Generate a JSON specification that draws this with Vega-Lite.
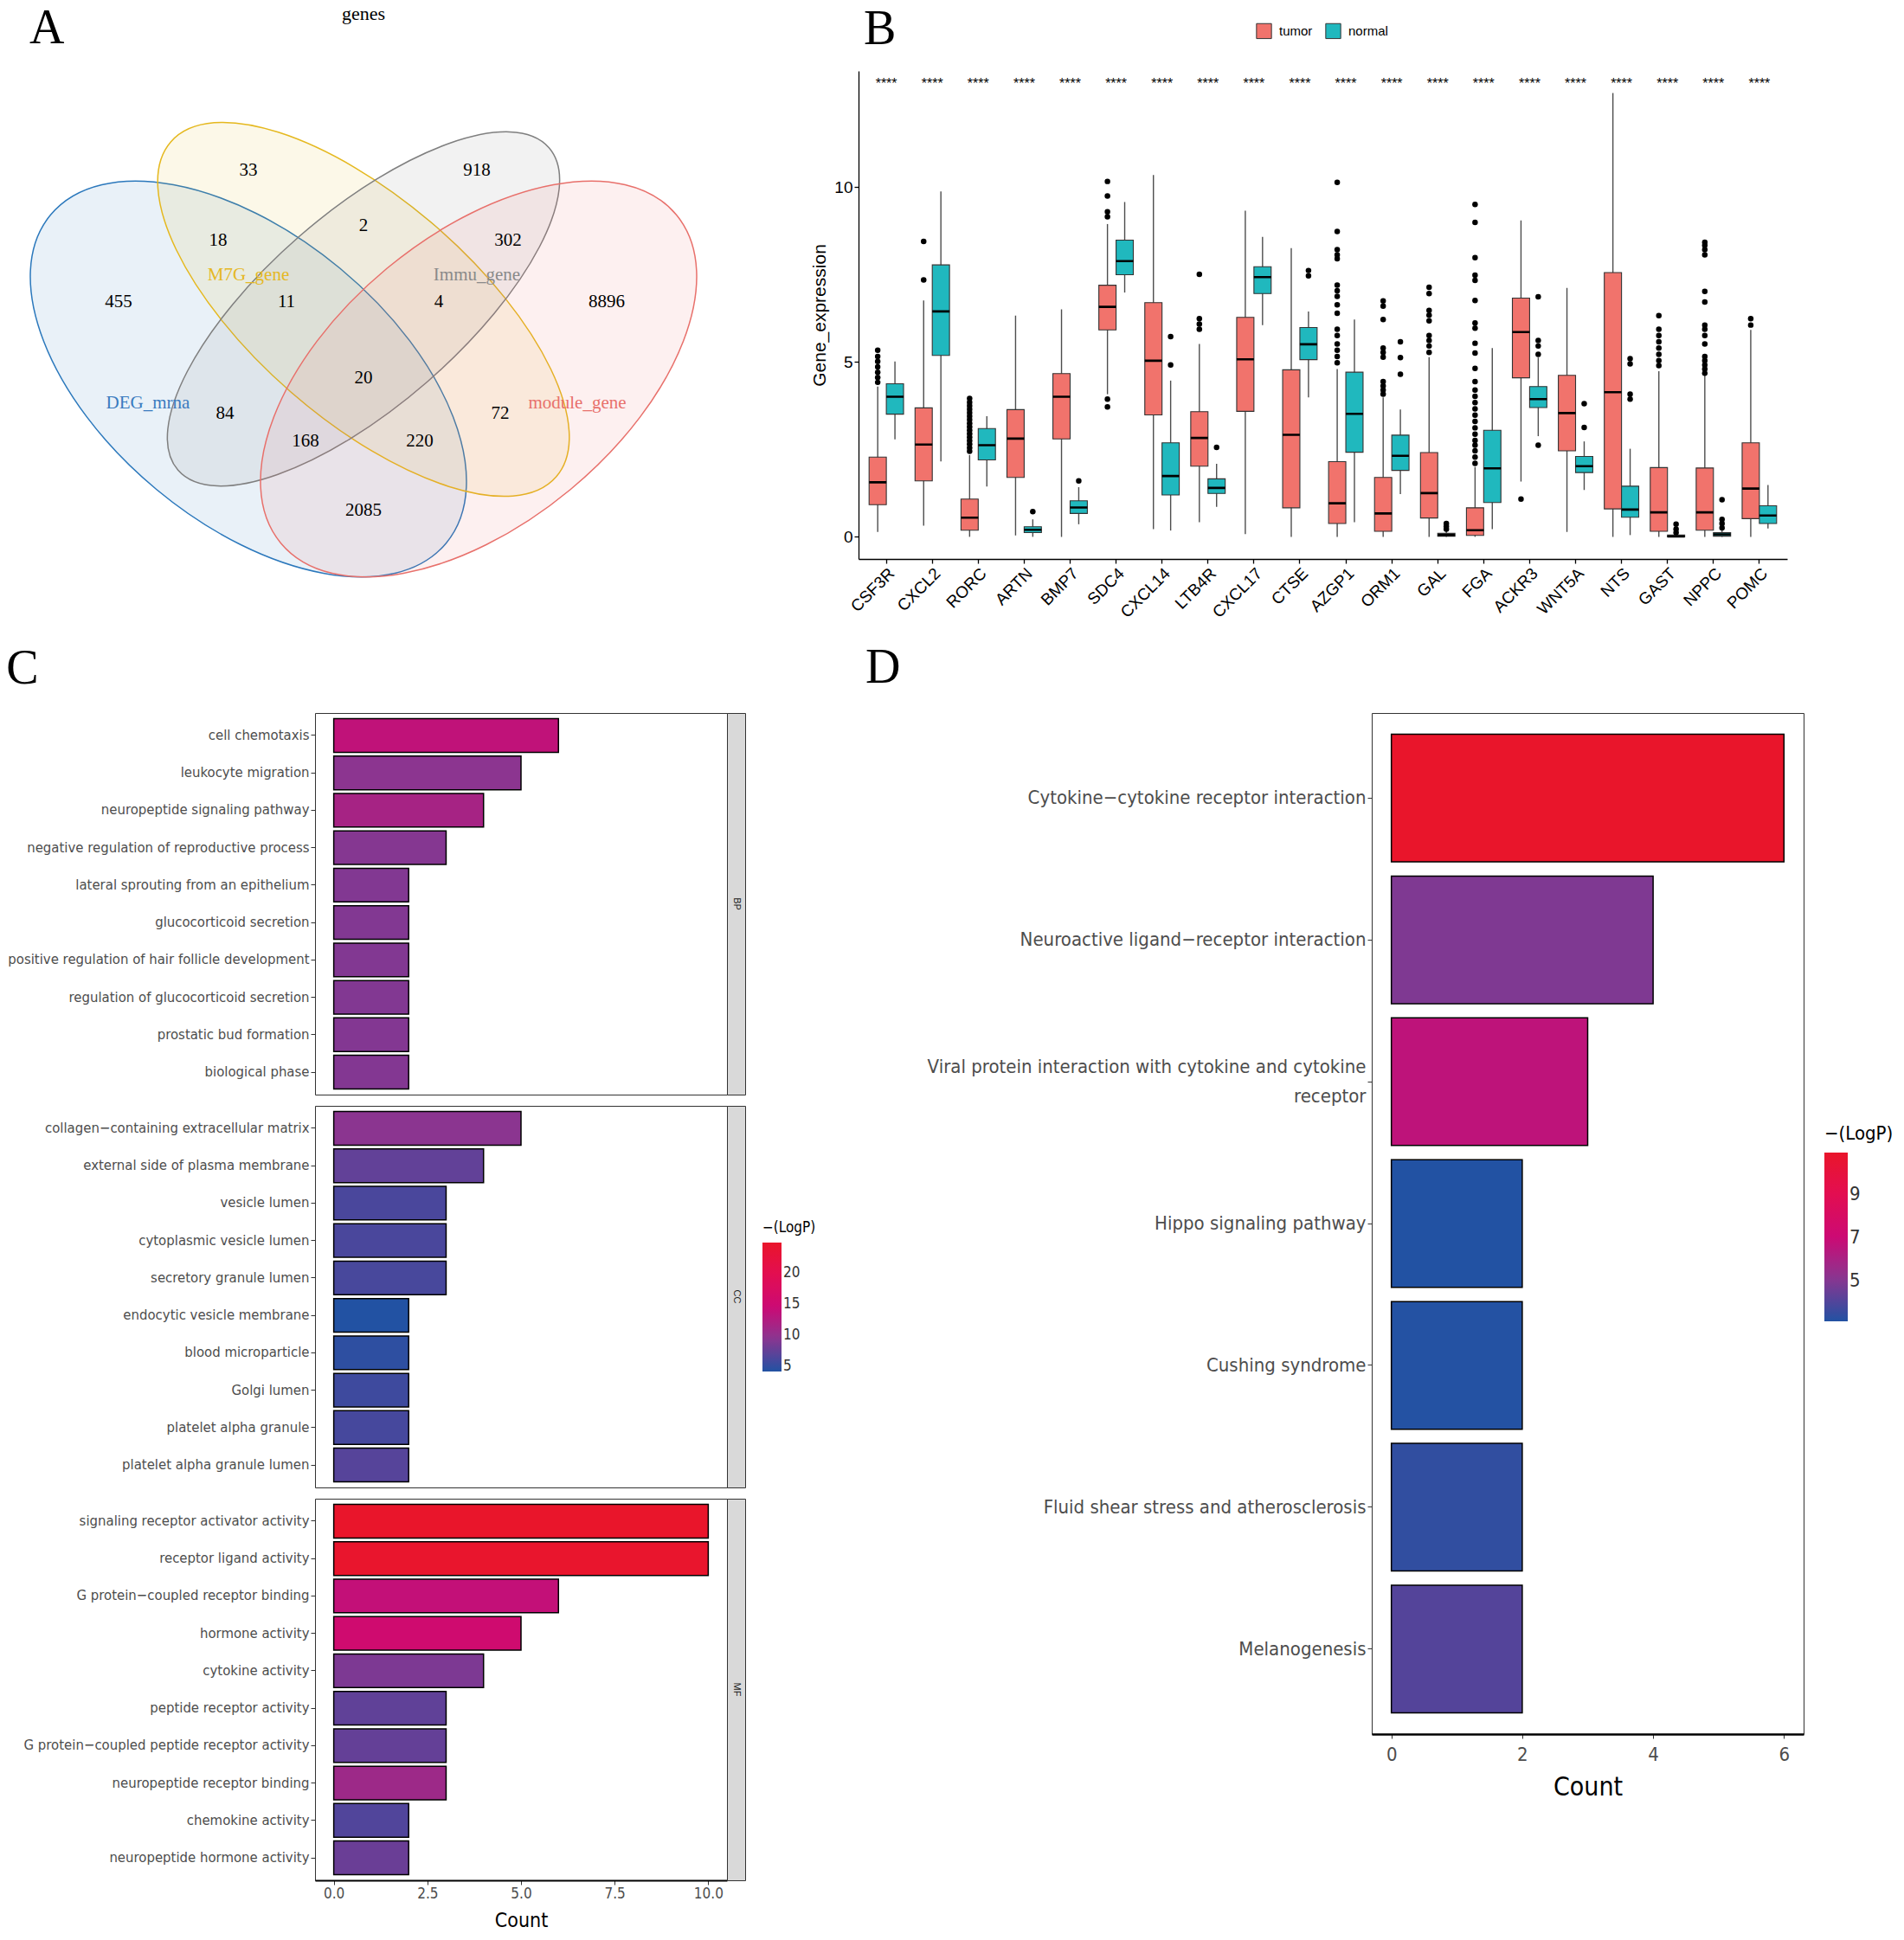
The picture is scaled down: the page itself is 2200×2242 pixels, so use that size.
{
"$schema": "https://vega.github.io/schema/vega-lite/v6.json",
"background": "white",
"padding": {"left": 7, "top": 5, "right": 0, "bottom": 0},
"config": {
 "view": {"stroke": null},
 "font": "Liberation Sans",
 "title": {"font": "Liberation Serif", "fontSize": 56, "fontWeight": "normal", "color": "#000000", "anchor": "start", "baseline": "alphabetic"},
 "axis": {"grid": false, "labelLimit": 1000}
},
"datasets": {
 "venn_title": [{"main": "genes", "cx": 0, "cy": 4.22}],
 "venn_sets": [
  {"set":"DEG_mrna","cx":-1.33,"cy":0,"lx":-2.49,"ly":-0.28},
  {"set":"M7G_gene","cx":0,"cy":0.805,"lx":-1.33,"ly":1.2},
  {"set":"Immu_gene","cx":0,"cy":0.81,"lx":1.31,"ly":1.2},
  {"set":"module_gene","cx":1.33,"cy":0,"lx":2.47,"ly":-0.28}
 ],
 "venn_regions": [
  {"region":"DEG_mrna","count":455,"cx":-2.83,"cy":0.89},
  {"region":"M7G_gene","count":33,"cx":-1.33,"cy":2.41},
  {"region":"Immu_gene","count":918,"cx":1.31,"cy":2.41},
  {"region":"module_gene","count":8896,"cx":2.81,"cy":0.89},
  {"region":"DEG_mrna&M7G_gene","count":18,"cx":-1.68,"cy":1.6},
  {"region":"M7G_gene&Immu_gene","count":2,"cx":0,"cy":1.77},
  {"region":"Immu_gene&module_gene","count":302,"cx":1.67,"cy":1.6},
  {"region":"DEG_mrna&M7G_gene&Immu_gene","count":11,"cx":-0.89,"cy":0.89},
  {"region":"M7G_gene&Immu_gene&module_gene","count":4,"cx":0.87,"cy":0.89},
  {"region":"all","count":20,"cx":0,"cy":0.01},
  {"region":"DEG_mrna&Immu_gene","count":84,"cx":-1.6,"cy":-0.4},
  {"region":"M7G_gene&module_gene","count":72,"cx":1.58,"cy":-0.4},
  {"region":"DEG_mrna&Immu_gene&module_gene","count":168,"cx":-0.67,"cy":-0.72},
  {"region":"DEG_mrna&M7G_gene&module_gene","count":220,"cx":0.65,"cy":-0.72},
  {"region":"DEG_mrna&module_gene","count":2085,"cx":0,"cy":-1.52}
 ],
 "box": [
  {"gene":"CSF3R","group":"tumor","lw":0.14,"q1":0.92,"med":1.56,"q3":2.28,"uw":4.30},
  {"gene":"CSF3R","group":"normal","lw":2.79,"q1":3.51,"med":4.01,"q3":4.38,"uw":5.02},
  {"gene":"CXCL2","group":"tumor","lw":0.32,"q1":1.60,"med":2.64,"q3":3.69,"uw":6.76},
  {"gene":"CXCL2","group":"normal","lw":2.16,"q1":5.19,"med":6.45,"q3":7.78,"uw":9.88},
  {"gene":"RORC","group":"tumor","lw":0.0,"q1":0.19,"med":0.55,"q3":1.08,"uw":2.34},
  {"gene":"RORC","group":"normal","lw":1.44,"q1":2.20,"med":2.62,"q3":3.10,"uw":3.45},
  {"gene":"ARTN","group":"tumor","lw":0.04,"q1":1.70,"med":2.81,"q3":3.64,"uw":6.33},
  {"gene":"ARTN","group":"normal","lw":0.0,"q1":0.12,"med":0.20,"q3":0.29,"uw":0.50},
  {"gene":"BMP7","group":"tumor","lw":0.0,"q1":2.80,"med":4.01,"q3":4.67,"uw":6.51},
  {"gene":"BMP7","group":"normal","lw":0.36,"q1":0.67,"med":0.84,"q3":1.03,"uw":1.42},
  {"gene":"SDC4","group":"tumor","lw":4.08,"q1":5.92,"med":6.58,"q3":7.20,"uw":8.95},
  {"gene":"SDC4","group":"normal","lw":6.99,"q1":7.50,"med":7.89,"q3":8.49,"uw":9.58},
  {"gene":"CXCL14","group":"tumor","lw":0.22,"q1":3.49,"med":5.04,"q3":6.70,"uw":10.35},
  {"gene":"CXCL14","group":"normal","lw":0.18,"q1":1.20,"med":1.74,"q3":2.69,"uw":4.47},
  {"gene":"LTB4R","group":"tumor","lw":0.42,"q1":2.02,"med":2.83,"q3":3.58,"uw":5.52},
  {"gene":"LTB4R","group":"normal","lw":0.86,"q1":1.24,"med":1.40,"q3":1.66,"uw":2.09},
  {"gene":"CXCL17","group":"tumor","lw":0.08,"q1":3.59,"med":5.08,"q3":6.28,"uw":9.33},
  {"gene":"CXCL17","group":"normal","lw":6.06,"q1":6.96,"med":7.43,"q3":7.73,"uw":8.58},
  {"gene":"CTSE","group":"tumor","lw":0.0,"q1":0.83,"med":2.92,"q3":4.78,"uw":8.26},
  {"gene":"CTSE","group":"normal","lw":3.99,"q1":5.07,"med":5.51,"q3":5.99,"uw":6.45},
  {"gene":"AZGP1","group":"tumor","lw":0.0,"q1":0.38,"med":0.96,"q3":2.15,"uw":4.80},
  {"gene":"AZGP1","group":"normal","lw":0.42,"q1":2.42,"med":3.52,"q3":4.71,"uw":6.22},
  {"gene":"ORM1","group":"tumor","lw":0.0,"q1":0.16,"med":0.67,"q3":1.70,"uw":3.99},
  {"gene":"ORM1","group":"normal","lw":1.22,"q1":1.90,"med":2.32,"q3":2.91,"uw":3.64},
  {"gene":"GAL","group":"tumor","lw":0.0,"q1":0.54,"med":1.25,"q3":2.41,"uw":5.14},
  {"gene":"GAL","group":"normal","lw":0.0,"q1":0.02,"med":0.05,"q3":0.10,"uw":0.18},
  {"gene":"FGA","group":"tumor","lw":0.0,"q1":0.04,"med":0.19,"q3":0.83,"uw":2.00},
  {"gene":"FGA","group":"normal","lw":0.22,"q1":0.98,"med":1.96,"q3":3.05,"uw":5.40},
  {"gene":"ACKR3","group":"tumor","lw":1.58,"q1":4.55,"med":5.86,"q3":6.83,"uw":9.05},
  {"gene":"ACKR3","group":"normal","lw":2.88,"q1":3.70,"med":3.94,"q3":4.30,"uw":5.13},
  {"gene":"WNT5A","group":"tumor","lw":0.14,"q1":2.46,"med":3.54,"q3":4.62,"uw":7.12},
  {"gene":"WNT5A","group":"normal","lw":1.34,"q1":1.84,"med":2.02,"q3":2.30,"uw":2.73},
  {"gene":"NTS","group":"tumor","lw":0.0,"q1":0.80,"med":4.14,"q3":7.56,"uw":12.70},
  {"gene":"NTS","group":"normal","lw":0.05,"q1":0.56,"med":0.78,"q3":1.45,"uw":2.52},
  {"gene":"GAST","group":"tumor","lw":0.0,"q1":0.16,"med":0.70,"q3":1.98,"uw":4.74},
  {"gene":"GAST","group":"normal","lw":0.0,"q1":0.0,"med":0.01,"q3":0.05,"uw":0.08},
  {"gene":"NPPC","group":"tumor","lw":0.0,"q1":0.19,"med":0.70,"q3":1.97,"uw":4.62},
  {"gene":"NPPC","group":"normal","lw":0.0,"q1":0.02,"med":0.07,"q3":0.12,"uw":0.20},
  {"gene":"POMC","group":"tumor","lw":0.0,"q1":0.52,"med":1.38,"q3":2.69,"uw":5.92},
  {"gene":"POMC","group":"normal","lw":0.24,"q1":0.38,"med":0.61,"q3":0.89,"uw":1.48}
 ],
 "outliers": [
  {"gene":"CSF3R","group":"tumor","value":5.34},{"gene":"CSF3R","group":"tumor","value":5.16},{"gene":"CSF3R","group":"tumor","value":5.02},{"gene":"CSF3R","group":"tumor","value":4.86},{"gene":"CSF3R","group":"tumor","value":4.71},{"gene":"CSF3R","group":"tumor","value":4.56},{"gene":"CSF3R","group":"tumor","value":4.42},
  {"gene":"CXCL2","group":"tumor","value":8.45},{"gene":"CXCL2","group":"tumor","value":7.35},
  {"gene":"RORC","group":"tumor","value":3.96},{"gene":"RORC","group":"tumor","value":3.85},{"gene":"RORC","group":"tumor","value":3.75},{"gene":"RORC","group":"tumor","value":3.65},{"gene":"RORC","group":"tumor","value":3.55},{"gene":"RORC","group":"tumor","value":3.45},{"gene":"RORC","group":"tumor","value":3.35},{"gene":"RORC","group":"tumor","value":3.25},{"gene":"RORC","group":"tumor","value":3.15},{"gene":"RORC","group":"tumor","value":3.05},{"gene":"RORC","group":"tumor","value":2.95},{"gene":"RORC","group":"tumor","value":2.85},{"gene":"RORC","group":"tumor","value":2.75},{"gene":"RORC","group":"tumor","value":2.65},{"gene":"RORC","group":"tumor","value":2.55},{"gene":"RORC","group":"tumor","value":2.45},
  {"gene":"ARTN","group":"normal","value":0.72},
  {"gene":"BMP7","group":"normal","value":1.60},
  {"gene":"SDC4","group":"tumor","value":10.17},{"gene":"SDC4","group":"tumor","value":9.75},{"gene":"SDC4","group":"tumor","value":9.30},{"gene":"SDC4","group":"tumor","value":9.16},{"gene":"SDC4","group":"tumor","value":3.94},{"gene":"SDC4","group":"tumor","value":3.72},
  {"gene":"CXCL14","group":"normal","value":5.73},{"gene":"CXCL14","group":"normal","value":4.92},
  {"gene":"LTB4R","group":"tumor","value":7.51},{"gene":"LTB4R","group":"tumor","value":6.24},{"gene":"LTB4R","group":"tumor","value":6.09},{"gene":"LTB4R","group":"tumor","value":5.94},
  {"gene":"LTB4R","group":"normal","value":2.56},
  {"gene":"CTSE","group":"normal","value":7.62},{"gene":"CTSE","group":"normal","value":7.47},
  {"gene":"AZGP1","group":"tumor","value":10.14},{"gene":"AZGP1","group":"tumor","value":8.74},{"gene":"AZGP1","group":"tumor","value":8.22},{"gene":"AZGP1","group":"tumor","value":8.07},{"gene":"AZGP1","group":"tumor","value":7.96},{"gene":"AZGP1","group":"tumor","value":7.20},{"gene":"AZGP1","group":"tumor","value":7.04},{"gene":"AZGP1","group":"tumor","value":6.88},{"gene":"AZGP1","group":"tumor","value":6.64},{"gene":"AZGP1","group":"tumor","value":6.40},{"gene":"AZGP1","group":"tumor","value":5.94},{"gene":"AZGP1","group":"tumor","value":5.76},{"gene":"AZGP1","group":"tumor","value":5.52},{"gene":"AZGP1","group":"tumor","value":5.34},{"gene":"AZGP1","group":"tumor","value":5.16},{"gene":"AZGP1","group":"tumor","value":4.98},
  {"gene":"ORM1","group":"tumor","value":6.75},{"gene":"ORM1","group":"tumor","value":6.60},{"gene":"ORM1","group":"tumor","value":6.22},{"gene":"ORM1","group":"tumor","value":5.40},{"gene":"ORM1","group":"tumor","value":5.28},{"gene":"ORM1","group":"tumor","value":5.14},{"gene":"ORM1","group":"tumor","value":4.44},{"gene":"ORM1","group":"tumor","value":4.32},{"gene":"ORM1","group":"tumor","value":4.20},{"gene":"ORM1","group":"tumor","value":4.08},
  {"gene":"ORM1","group":"normal","value":5.58},{"gene":"ORM1","group":"normal","value":5.13},{"gene":"ORM1","group":"normal","value":4.65},
  {"gene":"GAL","group":"tumor","value":7.14},{"gene":"GAL","group":"tumor","value":6.96},{"gene":"GAL","group":"tumor","value":6.48},{"gene":"GAL","group":"tumor","value":6.34},{"gene":"GAL","group":"tumor","value":6.18},{"gene":"GAL","group":"tumor","value":5.76},{"gene":"GAL","group":"tumor","value":5.62},{"gene":"GAL","group":"tumor","value":5.46},{"gene":"GAL","group":"tumor","value":5.28},
  {"gene":"GAL","group":"normal","value":0.38},{"gene":"GAL","group":"normal","value":0.30},{"gene":"GAL","group":"normal","value":0.22},
  {"gene":"FGA","group":"tumor","value":9.51},{"gene":"FGA","group":"tumor","value":9.00},{"gene":"FGA","group":"tumor","value":7.99},{"gene":"FGA","group":"tumor","value":7.49},{"gene":"FGA","group":"tumor","value":7.34},{"gene":"FGA","group":"tumor","value":6.76},{"gene":"FGA","group":"tumor","value":6.12},{"gene":"FGA","group":"tumor","value":5.97},{"gene":"FGA","group":"tumor","value":5.54},{"gene":"FGA","group":"tumor","value":5.26},{"gene":"FGA","group":"tumor","value":4.82},{"gene":"FGA","group":"tumor","value":4.44},{"gene":"FGA","group":"tumor","value":4.20},{"gene":"FGA","group":"tumor","value":4.02},{"gene":"FGA","group":"tumor","value":3.84},{"gene":"FGA","group":"tumor","value":3.66},{"gene":"FGA","group":"tumor","value":3.48},{"gene":"FGA","group":"tumor","value":3.30},{"gene":"FGA","group":"tumor","value":3.12},{"gene":"FGA","group":"tumor","value":2.94},{"gene":"FGA","group":"tumor","value":2.76},{"gene":"FGA","group":"tumor","value":2.62},{"gene":"FGA","group":"tumor","value":2.46},{"gene":"FGA","group":"tumor","value":2.28},{"gene":"FGA","group":"tumor","value":2.10},
  {"gene":"ACKR3","group":"tumor","value":1.08},
  {"gene":"ACKR3","group":"normal","value":6.87},{"gene":"ACKR3","group":"normal","value":5.62},{"gene":"ACKR3","group":"normal","value":5.46},{"gene":"ACKR3","group":"normal","value":5.22},{"gene":"ACKR3","group":"normal","value":2.62},
  {"gene":"WNT5A","group":"normal","value":3.81},{"gene":"WNT5A","group":"normal","value":3.13},
  {"gene":"NTS","group":"normal","value":5.10},{"gene":"NTS","group":"normal","value":4.95},{"gene":"NTS","group":"normal","value":4.08},{"gene":"NTS","group":"normal","value":3.94},
  {"gene":"GAST","group":"tumor","value":6.33},{"gene":"GAST","group":"tumor","value":5.94},{"gene":"GAST","group":"tumor","value":5.76},{"gene":"GAST","group":"tumor","value":5.58},{"gene":"GAST","group":"tumor","value":5.40},{"gene":"GAST","group":"tumor","value":5.22},{"gene":"GAST","group":"tumor","value":5.04},{"gene":"GAST","group":"tumor","value":4.90},
  {"gene":"GAST","group":"normal","value":0.36},{"gene":"GAST","group":"normal","value":0.22},{"gene":"GAST","group":"normal","value":0.12},
  {"gene":"NPPC","group":"tumor","value":8.43},{"gene":"NPPC","group":"tumor","value":8.34},{"gene":"NPPC","group":"tumor","value":8.22},{"gene":"NPPC","group":"tumor","value":8.07},{"gene":"NPPC","group":"tumor","value":7.02},{"gene":"NPPC","group":"tumor","value":6.72},{"gene":"NPPC","group":"tumor","value":6.06},{"gene":"NPPC","group":"tumor","value":5.94},{"gene":"NPPC","group":"tumor","value":5.76},{"gene":"NPPC","group":"tumor","value":5.52},{"gene":"NPPC","group":"tumor","value":5.16},{"gene":"NPPC","group":"tumor","value":5.04},{"gene":"NPPC","group":"tumor","value":4.92},{"gene":"NPPC","group":"tumor","value":4.80},{"gene":"NPPC","group":"tumor","value":4.68},
  {"gene":"NPPC","group":"normal","value":1.06},{"gene":"NPPC","group":"normal","value":0.50},{"gene":"NPPC","group":"normal","value":0.38},{"gene":"NPPC","group":"normal","value":0.26},
  {"gene":"POMC","group":"tumor","value":6.24},{"gene":"POMC","group":"tumor","value":6.06}
 ],
 "signif": [
  {"gene":"CSF3R","p":"****"},{"gene":"CXCL2","p":"****"},{"gene":"RORC","p":"****"},{"gene":"ARTN","p":"****"},{"gene":"BMP7","p":"****"},{"gene":"SDC4","p":"****"},{"gene":"CXCL14","p":"****"},{"gene":"LTB4R","p":"****"},{"gene":"CXCL17","p":"****"},{"gene":"CTSE","p":"****"},{"gene":"AZGP1","p":"****"},{"gene":"ORM1","p":"****"},{"gene":"GAL","p":"****"},{"gene":"FGA","p":"****"},{"gene":"ACKR3","p":"****"},{"gene":"WNT5A","p":"****"},{"gene":"NTS","p":"****"},{"gene":"GAST","p":"****"},{"gene":"NPPC","p":"****"},{"gene":"POMC","p":"****"}
 ],
 "go": [
  {"ont":"BP","term":"cell chemotaxis","count":6,"logp":13.6},
  {"ont":"BP","term":"leukocyte migration","count":5,"logp":9.55},
  {"ont":"BP","term":"neuropeptide signaling pathway","count":4,"logp":11.6},
  {"ont":"BP","term":"negative regulation of reproductive process","count":3,"logp":9.2},
  {"ont":"BP","term":"lateral sprouting from an epithelium","count":2,"logp":9.05},
  {"ont":"BP","term":"glucocorticoid secretion","count":2,"logp":9.05},
  {"ont":"BP","term":"positive regulation of hair follicle development","count":2,"logp":9.05},
  {"ont":"BP","term":"regulation of glucocorticoid secretion","count":2,"logp":9.05},
  {"ont":"BP","term":"prostatic bud formation","count":2,"logp":9.1},
  {"ont":"BP","term":"biological phase","count":2,"logp":9.1},
  {"ont":"CC","term":"collagen−containing extracellular matrix","count":5,"logp":9.5},
  {"ont":"CC","term":"external side of plasma membrane","count":4,"logp":7.4},
  {"ont":"CC","term":"vesicle lumen","count":3,"logp":6.2},
  {"ont":"CC","term":"cytoplasmic vesicle lumen","count":3,"logp":6.2},
  {"ont":"CC","term":"secretory granule lumen","count":3,"logp":6.1},
  {"ont":"CC","term":"endocytic vesicle membrane","count":2,"logp":4.17},
  {"ont":"CC","term":"blood microparticle","count":2,"logp":4.8},
  {"ont":"CC","term":"Golgi lumen","count":2,"logp":5.6},
  {"ont":"CC","term":"platelet alpha granule","count":2,"logp":6.0},
  {"ont":"CC","term":"platelet alpha granule lumen","count":2,"logp":6.8},
  {"ont":"MF","term":"signaling receptor activator activity","count":10,"logp":24.86},
  {"ont":"MF","term":"receptor ligand activity","count":10,"logp":24.6},
  {"ont":"MF","term":"G protein−coupled receptor binding","count":6,"logp":13.8},
  {"ont":"MF","term":"hormone activity","count":5,"logp":15.2},
  {"ont":"MF","term":"cytokine activity","count":4,"logp":8.8},
  {"ont":"MF","term":"peptide receptor activity","count":3,"logp":7.3},
  {"ont":"MF","term":"G protein−coupled peptide receptor activity","count":3,"logp":7.5},
  {"ont":"MF","term":"neuropeptide receptor binding","count":3,"logp":10.9},
  {"ont":"MF","term":"chemokine activity","count":2,"logp":6.55},
  {"ont":"MF","term":"neuropeptide hormone activity","count":2,"logp":7.8}
 ],
 "kegg": [
  {"term":"Cytokine−cytokine receptor interaction","count":6,"logp":10.9},
  {"term":"Neuroactive ligand−receptor interaction","count":4,"logp":4.88},
  {"term":"Viral protein interaction with cytokine and cytokine receptor","count":3,"logp":6.59},
  {"term":"Hippo signaling pathway","count":2,"logp":3.1},
  {"term":"Cushing syndrome","count":2,"logp":3.13},
  {"term":"Fluid shear stress and atherosclerosis","count":2,"logp":3.39},
  {"term":"Melanogenesis","count":2,"logp":4.06}
 ]
},
"resolve": {"scale": {"color": "independent", "fill": "independent", "stroke": "independent"}},
"spacing": 25,
"vconcat": [
 {
  "spacing": 104,
  "resolve": {"scale": {"color": "independent", "fill": "independent", "stroke": "independent"}},
  "hconcat": [
   {
    "width": 468, "height": 618,
    "title": {"text": "A", "frame": "group", "dx": -330, "offset": -57},
    "encoding": {
     "x": {"field": "cx", "type": "quantitative", "scale": {"domain": [-0.56, 4.12], "nice": false, "zero": false}, "axis": null},
     "y": {"field": "cy", "type": "quantitative", "scale": {"domain": [-2.62, 3.56], "nice": false, "zero": false}, "axis": null}
    },
    "layer": [
     {"data": {"name": "venn_sets"}, "transform": [{"filter": "datum.set == 'DEG_mrna'"}],
      "mark": {"type": "point", "shape": "M 1 0 C 1 0.309 0.552 0.559 0 0.559 C -0.552 0.559 -1 0.309 -1 0 C -1 -0.309 -0.552 -0.559 0 -0.559 C 0.552 -0.559 1 -0.309 1 0 Z", "size": 352836, "angle": 39.7, "filled": true, "opacity": 1, "fill": "#2B78BC", "fillOpacity": 0.1, "stroke": "#2B78BC", "strokeWidth": 1.5, "strokeOpacity": 1}},
     {"data": {"name": "venn_sets"}, "transform": [{"filter": "datum.set == 'M7G_gene'"}],
      "mark": {"type": "point", "shape": "M 1 0 C 1 0.238 0.552 0.431 0 0.431 C -0.552 0.431 -1 0.238 -1 0 C -1 -0.238 -0.552 -0.431 0 -0.431 C 0.552 -0.431 1 -0.238 1 0 Z", "size": 348100, "angle": 41, "filled": true, "opacity": 1, "fill": "#E5B81E", "fillOpacity": 0.1, "stroke": "#E5B81E", "strokeWidth": 1.5, "strokeOpacity": 1}},
     {"data": {"name": "venn_sets"}, "transform": [{"filter": "datum.set == 'Immu_gene'"}],
      "mark": {"type": "point", "shape": "M 1 0 C 1 0.218 0.552 0.394 0 0.394 C -0.552 0.394 -1 0.218 -1 0 C -1 -0.218 -0.552 -0.394 0 -0.394 C 0.552 -0.394 1 -0.218 1 0 Z", "size": 322624, "angle": -41, "filled": true, "opacity": 1, "fill": "#7F7F7F", "fillOpacity": 0.1, "stroke": "#7F7F7F", "strokeWidth": 1.5, "strokeOpacity": 1}},
     {"data": {"name": "venn_sets"}, "transform": [{"filter": "datum.set == 'module_gene'"}],
      "mark": {"type": "point", "shape": "M 1 0 C 1 0.309 0.552 0.559 0 0.559 C -0.552 0.559 -1 0.309 -1 0 C -1 -0.309 -0.552 -0.559 0 -0.559 C 0.552 -0.559 1 -0.309 1 0 Z", "size": 352836, "angle": -39.7, "filled": true, "opacity": 1, "fill": "#E8706B", "fillOpacity": 0.1, "stroke": "#E8706B", "strokeWidth": 1.5, "strokeOpacity": 1}},
     {"data": {"name": "venn_regions"},
      "mark": {"type": "text", "font": "Liberation Serif", "fontSize": 21, "color": "#000000"},
      "encoding": {"text": {"field": "count", "type": "quantitative"}}},
     {"data": {"name": "venn_sets"},
      "mark": {"type": "text", "font": "Liberation Serif", "fontSize": 21},
      "encoding": {
       "x": {"field": "lx", "type": "quantitative"},
       "y": {"field": "ly", "type": "quantitative"},
       "text": {"field": "set"},
       "color": {"field": "set", "type": "nominal", "scale": {"domain": ["DEG_mrna", "M7G_gene", "Immu_gene", "module_gene"], "range": ["#3A7BBF", "#E5B824", "#8A8A8A", "#E8716C"]}, "legend": null}
      }},
     {"data": {"name": "venn_title"},
      "mark": {"type": "text", "font": "Liberation Serif", "fontSize": 22, "color": "#000000"},
      "encoding": {"text": {"field": "main"}}}
    ]
   },
   {
    "width": 1073, "height": 564,
    "title": {"text": "B", "frame": "group", "dx": 6, "offset": -37},
    "encoding": {
     "x": {"field": "gene", "type": "nominal", "sort": ["CSF3R","CXCL2","RORC","ARTN","BMP7","SDC4","CXCL14","LTB4R","CXCL17","CTSE","AZGP1","ORM1","GAL","FGA","ACKR3","WNT5A","NTS","GAST","NPPC","POMC"],
      "scale": {"paddingInner": 0.25, "paddingOuter": 0.23},
      "axis": {"title": null, "labelAngle": -45, "labelAlign": "right", "labelBaseline": "top", "labelFontSize": 19, "labelColor": "#000000", "tickColor": "#000000", "tickSize": 5, "tickWidth": 1.3, "domainColor": "#000000", "domainWidth": 1.3, "labelPadding": 2}}
    },
    "layer": [
     {"data": {"name": "box"},
      "mark": {"type": "rule", "color": "#4D4D4D", "strokeWidth": 1.4},
      "encoding": {
       "xOffset": {"field": "group", "type": "nominal", "sort": ["tumor", "normal"], "scale": {"paddingInner": 0, "paddingOuter": 0}},
       "y": {"field": "lw", "type": "quantitative", "title": "Gene_expression", "scale": {"domain": [-0.634, 13.33], "nice": false, "zero": false},
        "axis": {"values": [0, 5, 10], "title": "Gene_expression", "titleFontSize": 21, "titleFontWeight": "normal", "titleColor": "#000000", "titlePadding": 6, "labelFontSize": 19, "labelColor": "#000000", "tickColor": "#000000", "tickSize": 5, "tickWidth": 1.3, "domainColor": "#000000", "domainWidth": 1.3, "labelPadding": 2}},
       "y2": {"field": "uw"}
      }},
     {"data": {"name": "box"},
      "mark": {"type": "bar", "stroke": "#333333", "strokeWidth": 1.1},
      "encoding": {
       "xOffset": {"field": "group", "type": "nominal", "sort": ["tumor", "normal"], "scale": {"paddingInner": 0, "paddingOuter": 0}},
       "y": {"field": "q1", "type": "quantitative", "title": "Gene_expression"},
       "y2": {"field": "q3"},
       "fill": {"field": "group", "type": "nominal", "scale": {"domain": ["tumor", "normal"], "range": ["#F1736C", "#20B8BE"]},
        "legend": {"orient": "none", "legendX": 459, "legendY": -56, "direction": "horizontal", "title": null, "labelFontSize": 15, "labelColor": "#000000", "symbolType": "square", "symbolSize": 300, "symbolStrokeColor": "#333333", "symbolStrokeWidth": 1, "symbolOpacity": 1, "labelOffset": 8, "columnPadding": 12}}
      }},
     {"data": {"name": "box"},
      "mark": {"type": "bar", "fillOpacity": 0, "stroke": "#000000", "strokeWidth": 2.6},
      "encoding": {
       "xOffset": {"field": "group", "type": "nominal", "sort": ["tumor", "normal"], "scale": {"paddingInner": 0, "paddingOuter": 0}},
       "y": {"field": "med", "type": "quantitative", "title": "Gene_expression"},
       "y2": {"field": "med"}
      }},
     {"data": {"name": "outliers"},
      "mark": {"type": "point", "filled": true, "color": "#000000", "size": 42, "opacity": 1},
      "encoding": {
       "xOffset": {"field": "group", "type": "nominal", "sort": ["tumor", "normal"], "scale": {"paddingInner": 0, "paddingOuter": 0}},
       "y": {"field": "value", "type": "quantitative", "title": "Gene_expression"}
      }},
     {"data": {"name": "signif"},
      "mark": {"type": "text", "fontSize": 16, "color": "#000000", "baseline": "middle"},
      "encoding": {
       "y": {"datum": 12.97, "type": "quantitative"},
       "text": {"field": "p"}
      }}
    ]
   }
  ]
 },
 {
  "spacing": 56,
  "resolve": {"scale": {"color": "independent", "fill": "independent", "stroke": "independent"}},
  "hconcat": [
   {
    "title": {"text": "C", "frame": "bounds", "dx": -1, "offset": 22},
    "spacing": 11,
    "resolve": {"scale": {"fill": "independent"}},
    "vconcat": [
     {
      "bounds": "flush", "spacing": 0,
      "hconcat": [
       {
        "width": 476, "height": 441,
        "view": {"stroke": "#333333", "strokeWidth": 1},
        "data": {"name": "go"},
        "transform": [{"filter": "datum.ont == 'BP'"}],
        "mark": {"type": "bar", "stroke": "#000000", "strokeWidth": 1.5},
        "encoding": {
         "y": {"field": "term", "type": "nominal", "sort": null, "scale": {"paddingInner": 0.1, "paddingOuter": 0.15},
          "axis": {"title": null, "domain": false, "tickColor": "#333333", "tickSize": 5, "labelFont": "Liberation Sans Narrow, Arial Narrow, DejaVu Sans Condensed, Liberation Sans", "labelFontSize": 16.6, "labelColor": "#4D4D4D", "labelPadding": 2}},
         "x": {"field": "count", "type": "quantitative", "scale": {"domain": [-0.5, 10.5], "nice": false, "zero": false}, "axis": null},
         "x2": {"datum": 0},
         "fill": {"field": "logp", "type": "quantitative", "scale": {"domain": [4.17, 9.55, 14.52, 19.89, 24.86], "range": ["#2252A3", "#8C3590", "#CC0A74", "#E30E50", "#E9152B"], "interpolate": "rgb"}, "legend": null}
        }
       },
       {
        "width": 21, "height": 441,
        "view": {"fill": "#D9D9D9", "stroke": "#333333", "strokeWidth": 1},
        "data": {"values": [{"ont": "BP"}]},
        "mark": {"type": "text", "angle": 90, "fontSize": 11, "color": "#1A1A1A"},
        "encoding": {"text": {"field": "ont"}}
       }
      ]
     },
     {
      "bounds": "flush", "spacing": 0,
      "hconcat": [
       {
        "width": 476, "height": 441,
        "view": {"stroke": "#333333", "strokeWidth": 1},
        "data": {"name": "go"},
        "transform": [{"filter": "datum.ont == 'CC'"}],
        "mark": {"type": "bar", "stroke": "#000000", "strokeWidth": 1.5},
        "encoding": {
         "y": {"field": "term", "type": "nominal", "sort": null, "scale": {"paddingInner": 0.1, "paddingOuter": 0.15},
          "axis": {"title": null, "domain": false, "tickColor": "#333333", "tickSize": 5, "labelFont": "Liberation Sans Narrow, Arial Narrow, DejaVu Sans Condensed, Liberation Sans", "labelFontSize": 16.6, "labelColor": "#4D4D4D", "labelPadding": 2}},
         "x": {"field": "count", "type": "quantitative", "scale": {"domain": [-0.5, 10.5], "nice": false, "zero": false}, "axis": null},
         "x2": {"datum": 0},
         "fill": {"field": "logp", "type": "quantitative", "scale": {"domain": [4.17, 9.55, 14.52, 19.89, 24.86], "range": ["#2252A3", "#8C3590", "#CC0A74", "#E30E50", "#E9152B"], "interpolate": "rgb"},
          "legend": {"orient": "none", "legendX": 517, "legendY": 133, "direction": "vertical", "title": "−(LogP)", "titleFont": "Liberation Sans Narrow, Arial Narrow, DejaVu Sans Condensed, Liberation Sans", "titleFontSize": 17, "titleFontWeight": "normal", "titleColor": "#000000", "titlePadding": 8, "gradientLength": 149, "gradientThickness": 22, "gradientStrokeWidth": 0, "labelFont": "Liberation Sans Narrow, Arial Narrow, DejaVu Sans Condensed, Liberation Sans", "labelFontSize": 17, "labelColor": "#333333", "values": [5, 10, 15, 20]}}
        }
       },
       {
        "width": 21, "height": 441,
        "view": {"fill": "#D9D9D9", "stroke": "#333333", "strokeWidth": 1},
        "data": {"values": [{"ont": "CC"}]},
        "mark": {"type": "text", "angle": 90, "fontSize": 11, "color": "#1A1A1A"},
        "encoding": {"text": {"field": "ont"}}
       }
      ]
     },
     {
      "bounds": "flush", "spacing": 0,
      "hconcat": [
       {
        "width": 476, "height": 441,
        "view": {"stroke": "#333333", "strokeWidth": 1},
        "data": {"name": "go"},
        "transform": [{"filter": "datum.ont == 'MF'"}],
        "mark": {"type": "bar", "stroke": "#000000", "strokeWidth": 1.5},
        "encoding": {
         "y": {"field": "term", "type": "nominal", "sort": null, "scale": {"paddingInner": 0.1, "paddingOuter": 0.15},
          "axis": {"title": null, "domain": false, "tickColor": "#333333", "tickSize": 5, "labelFont": "Liberation Sans Narrow, Arial Narrow, DejaVu Sans Condensed, Liberation Sans", "labelFontSize": 16.6, "labelColor": "#4D4D4D", "labelPadding": 2}},
         "x": {"field": "count", "type": "quantitative", "scale": {"domain": [-0.5, 10.5], "nice": false, "zero": false},
          "axis": {"title": "Count", "values": [0, 2.5, 5, 7.5, 10], "format": ".1f", "domainColor": "#000000", "domainWidth": 2, "tickColor": "#333333", "tickSize": 5, "labelFont": "Liberation Sans Narrow, Arial Narrow, DejaVu Sans Condensed, Liberation Sans", "labelFontSize": 17, "labelColor": "#4D4D4D", "titleFont": "Liberation Sans Narrow, Arial Narrow, DejaVu Sans Condensed, Liberation Sans", "titleFontSize": 23, "titleFontWeight": "normal", "titleColor": "#000000", "titlePadding": 12}},
         "x2": {"datum": 0},
         "fill": {"field": "logp", "type": "quantitative", "scale": {"domain": [4.17, 9.55, 14.52, 19.89, 24.86], "range": ["#2252A3", "#8C3590", "#CC0A74", "#E30E50", "#E9152B"], "interpolate": "rgb"}, "legend": null}
        }
       },
       {
        "width": 21, "height": 441,
        "view": {"fill": "#D9D9D9", "stroke": "#333333", "strokeWidth": 1},
        "data": {"values": [{"ont": "MF"}]},
        "mark": {"type": "text", "angle": 90, "fontSize": 11, "color": "#1A1A1A"},
        "encoding": {"text": {"field": "ont"}}
       }
      ]
     }
    ]
   },
   {
    "width": 499, "height": 1180,
    "title": {"text": "D", "frame": "bounds", "dx": -71, "offset": 23},
    "view": {"stroke": "#333333", "strokeWidth": 1},
    "data": {"name": "kegg"},
    "mark": {"type": "bar", "stroke": "#000000", "strokeWidth": 1.5},
    "encoding": {
     "y": {"field": "term", "type": "nominal", "sort": null, "scale": {"paddingInner": 0.1, "paddingOuter": 0.15},
      "axis": {"title": null, "domain": false, "tickColor": "#333333", "tickSize": 5, "labelFont": "Liberation Sans Narrow, Arial Narrow, DejaVu Sans Condensed, Liberation Sans", "labelFontSize": 22, "labelColor": "#4D4D4D", "labelPadding": 2, "labelLineHeight": 34,
       "labelOffset": {"condition": {"test": "datum.label == 'Viral protein interaction with cytokine and cytokine receptor'", "value": -17}, "value": 0},
       "labelExpr": "datum.label == 'Viral protein interaction with cytokine and cytokine receptor' ? ['Viral protein interaction with cytokine and cytokine', 'receptor'] : datum.label"}},
     "x": {"field": "count", "type": "quantitative", "scale": {"domain": [-0.3, 6.3], "nice": false, "zero": false},
      "axis": {"title": "Count", "values": [0, 2, 4, 6], "domainColor": "#000000", "domainWidth": 2.5, "tickColor": "#333333", "tickSize": 5, "labelFont": "Liberation Sans Narrow, Arial Narrow, DejaVu Sans Condensed, Liberation Sans", "labelFontSize": 22, "labelColor": "#4D4D4D", "labelPadding": 8, "titleFont": "Liberation Sans Narrow, Arial Narrow, DejaVu Sans Condensed, Liberation Sans", "titleFontSize": 30, "titleFontWeight": "normal", "titleColor": "#000000", "titlePadding": 12}},
     "x2": {"datum": 0},
     "fill": {"field": "logp", "type": "quantitative", "scale": {"domain": [3.1, 5.13, 7.0, 9.03, 10.9], "range": ["#2252A3", "#8C3590", "#CC0A74", "#E30E50", "#E9152B"], "interpolate": "rgb"},
      "legend": {"orient": "none", "legendX": 523, "legendY": 476, "direction": "vertical", "title": "−(LogP)", "titleFont": "Liberation Sans Narrow, Arial Narrow, DejaVu Sans Condensed, Liberation Sans", "titleFontSize": 22, "titleFontWeight": "normal", "titleColor": "#000000", "titlePadding": 10, "gradientLength": 195, "gradientThickness": 27, "gradientStrokeWidth": 0, "labelFont": "Liberation Sans Narrow, Arial Narrow, DejaVu Sans Condensed, Liberation Sans", "labelFontSize": 22, "labelColor": "#333333", "values": [5, 7, 9]}}
    }
   }
  ]
 }
]
}
